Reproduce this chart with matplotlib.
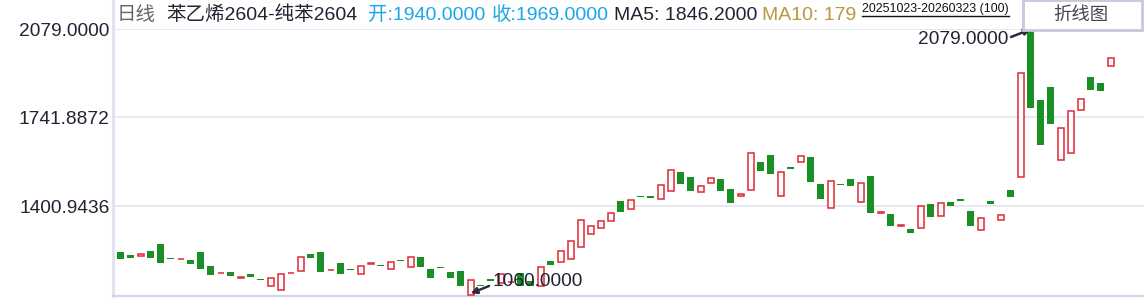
import numpy as np
import matplotlib
matplotlib.use("Agg")
import matplotlib.pyplot as plt
from matplotlib.patches import Rectangle
from matplotlib.lines import Line2D

plt.rcParams['font.family'] = ['Liberation Sans', 'Noto Sans CJK SC', 'DejaVu Sans']

# ---- daily open / close, 20251023-20260323 (100 bars) ----
opens = [
    1225, 1215, 1211, 1229, 1256, 1203, 1197, 1194, 1225, 1171,
    1143, 1148, 1127, 1141, 1122, 1093, 1080, 1144, 1153, 1218,
    1225, 1154, 1183, 1159, 1142, 1178, 1175, 1159, 1194, 1166,
    1205, 1159, 1167, 1148, 1152, 1060, 1098, 1121, 1106, 1108,
    1146, 1112, 1096, 1190, 1185, 1197, 1243, 1293, 1316, 1343,
    1421, 1389, 1439, 1438, 1427, 1458, 1532, 1513, 1454, 1488,
    1505, 1467, 1439, 1462, 1570, 1597, 1439, 1551, 1569, 1589,
    1486, 1393, 1485, 1505, 1416, 1516, 1376, 1371, 1326, 1313,
    1318, 1409, 1362, 1417, 1428, 1382, 1308, 1421, 1346, 1463,
    1514, 2079, 1808, 1858, 1577, 1606, 1771, 1896, 1873, 1940,
]
closes = [
    1199, 1203, 1218, 1203, 1184, 1201, 1199, 1180, 1161, 1138,
    1145, 1134, 1129, 1130, 1121, 1124, 1141, 1146, 1206, 1203,
    1149, 1156, 1142, 1158, 1170, 1183, 1173, 1185, 1193, 1205,
    1169, 1126, 1166, 1126, 1095, 1116, 1097, 1115, 1141, 1110,
    1096, 1096, 1166, 1176, 1229, 1266, 1347, 1324, 1343, 1375,
    1380, 1424, 1438, 1436, 1482, 1538, 1487, 1460, 1477, 1508,
    1460, 1412, 1447, 1603, 1537, 1526, 1531, 1544, 1592, 1495,
    1429, 1496, 1484, 1479, 1488, 1376, 1378, 1326, 1328, 1299,
    1400, 1360, 1412, 1402, 1422, 1326, 1354, 1410, 1366, 1437,
    1910, 1777, 1635, 1716, 1700, 1766, 1812, 1846, 1842, 1969,
]
y_ticks = [1400.9436, 1741.8872, 2079.0]
high_val = 2079.0
low_val = 1060.0

RED = '#e3303a'
GREEN = '#1a8f26'
GRID = '#e8e8f2'
AXIS = '#e2e2f0'
TXT = '#222233'

opens = np.array(opens, dtype=float)
closes = np.array(closes, dtype=float)
x = np.arange(len(opens))
up = closes >= opens

W, H = 1144, 298
fig = plt.figure(figsize=(W / 100, H / 100), dpi=100)
ax = fig.add_axes([113 / W, 2 / H, (W - 113) / W, (296 - 29) / H])

# ---- candle bodies (no wicks) ----
body = np.abs(closes - opens)
bottom = np.minimum(opens, closes)
g = ~up
gh = np.maximum(body[g], 4.5)
ax.bar(x[g], gh, bottom=bottom[g] + body[g] - gh, width=0.7,
       color=GREEN, linewidth=0, zorder=3)
ax.bar(x[up], body[up], bottom=bottom[up], width=0.58,
       facecolor='white', edgecolor=RED, linewidth=1.15, zorder=3)

ax.set_xlim(-0.77, 102.33)
ax.set_ylim(1056.2, 2080.2)

ax.set_yticks(y_ticks)
ax.set_yticklabels(['%.4f' % v for v in y_ticks])
ax.tick_params(axis='y', length=0, pad=2.5, labelsize=13.8, labelcolor=TXT)
ax.set_xticks([])
ax.grid(axis='y', color=GRID, linewidth=1.4, zorder=0)

for s in ['top', 'right']:
    ax.spines[s].set_visible(False)
ax.spines['left'].set_color(AXIS)
ax.spines['left'].set_linewidth(2.2)
ax.spines['bottom'].set_color('#d4d4e8')
ax.spines['bottom'].set_linewidth(1.6)
# axis line continues up through the header strip
fig.add_artist(Line2D([113 / W, 113 / W], [1 - 30 / H, 1], color=AXIS, lw=2.2))

# ---- high / low markers ----
i_hi = int(np.argmax(np.maximum(opens, closes)))
i_lo = int(np.argmin(np.minimum(opens, closes)))
arrow = dict(arrowstyle='-|>', color='#2a2c44', lw=1.8, mutation_scale=9,
             shrinkA=0, shrinkB=0)
ax.text(1008 / W, 1 - 40 / H, '%.4f' % high_val, transform=fig.transFigure,
        ha='right', va='center', fontsize=13.8, color=TXT, zorder=5)
ax.annotate('', xy=(i_hi, high_val), xycoords='data',
            xytext=(1011, H - 37), textcoords='figure pixels',
            arrowprops=arrow, zorder=5, annotation_clip=False)
ax.text(492 / W, 1 - 282 / H, '%.4f' % low_val, transform=fig.transFigure,
        ha='left', va='center', fontsize=13.8, color=TXT, zorder=5)
ax.annotate('', xy=(i_lo, low_val + 6), xycoords='data',
            xytext=(489, H - 286), textcoords='figure pixels',
            arrowprops=arrow, zorder=5, annotation_clip=False)

# ---- header line ----
hy = 1 - 15 / H
fs = 14
fig.text(116.5 / W, hy, '日线', fontsize=fs, color='#666670', va='center')
fig.text(166.5 / W, hy, '苯乙烯2604-纯苯2604', fontsize=fs, color=TXT, va='center')
fig.text(368 / W, hy, '开:1940.0000', fontsize=fs, color='#1aa6ea', va='center')
fig.text(492 / W, hy, '收:1969.0000', fontsize=fs, color='#1aa6ea', va='center')
fig.text(614 / W, hy, 'MA5: 1846.2000', fontsize=fs, color=TXT, va='center')
fig.text(761.5 / W, hy, 'MA10: 179', fontsize=fs, color='#b8983a', va='center')

fig.text(861.5 / W, 1 - 9 / H, '20251023-20260323 (100)', fontsize=8.9, color='#111111',
         va='center')
fig.add_artist(Line2D([861.5 / W, 1009 / W], [1 - 15.5 / H, 1 - 15.5 / H],
                      color='#111111', lw=1.0))

fig.add_artist(Rectangle((1023 / W, 1 - 30 / H), (1142 - 1023) / W, 30 / H,
                         transform=fig.transFigure, facecolor='white',
                         edgecolor='#c8c8de', lw=2, zorder=6))
fig.text(1081 / W, 1 - 15 / H, '折线图', fontsize=13.2, color='#444450',
         ha='center', va='center', zorder=7)

fig.savefig('out.png', dpi=100)
